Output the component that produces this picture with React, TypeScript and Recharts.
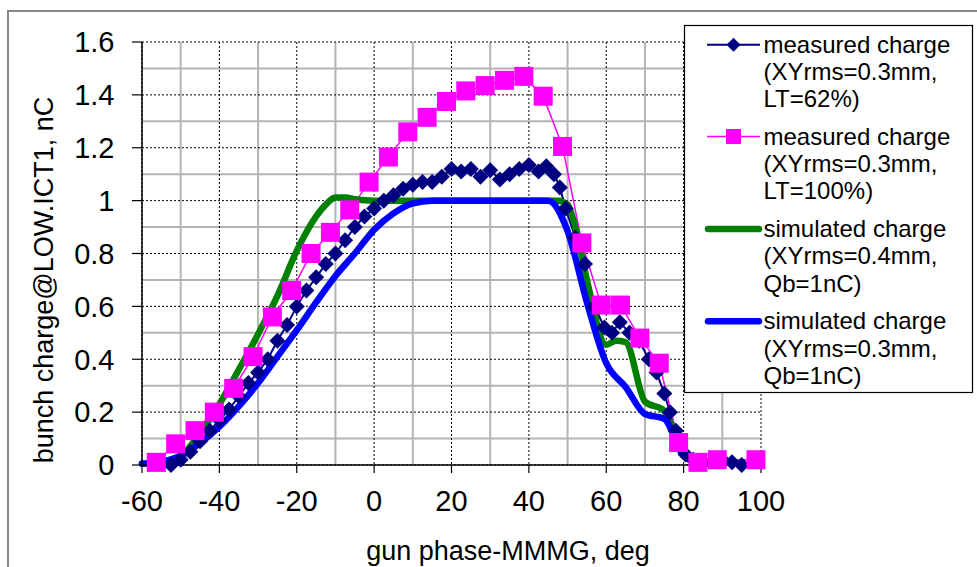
import React from 'react';
import { LineChart, Line, XAxis, YAxis, CartesianGrid, Label } from 'recharts';

// ---- axis ticks / grid values ----
const xTicks = [-60, -40, -20, 0, 20, 40, 60, 80, 100];
const yTicks = [0, 0.2, 0.4, 0.6, 0.8, 1, 1.2, 1.4, 1.6];
const xMinor = [-50, -30, -10, 10, 30, 50, 70, 90];
const yMinor = [0.1, 0.3, 0.5, 0.7, 0.9, 1.1, 1.3, 1.5];

// ---- measured charge, LT=62% ----
const navyPhase = [-52.5, -50, -47.5, -45, -42.5, -40, -37.5, -35, -32.5, -30, -27.5, -25, -22.5, -20, -17.5, -15, -12.5, -10, -7.5, -5, -2.5, 0, 2.5, 5, 7.5, 10, 12.5, 15, 17.5, 20, 22.5, 25, 27.5, 30, 32.5, 35, 37.5, 40, 42.5, 44.5, 46.5, 48, 49.5, 52, 54.5, 57, 59.5, 61.5, 63.5, 66, 68.5, 71, 73, 75, 76.5, 78, 79, 80.5, 82.5, 85, 87.5, 90, 92.5, 95];
const navyCharge = [0.0, 0.02, 0.05, 0.09, 0.13, 0.17, 0.21, 0.26, 0.31, 0.35, 0.4, 0.47, 0.53, 0.6, 0.66, 0.71, 0.76, 0.8, 0.85, 0.9, 0.94, 0.97, 1.0, 1.02, 1.045, 1.06, 1.07, 1.07, 1.09, 1.12, 1.11, 1.12, 1.09, 1.115, 1.08, 1.1, 1.12, 1.135, 1.11, 1.13, 1.1, 1.05, 0.97, 0.86, 0.76, 0.6, 0.52, 0.5, 0.54, 0.5, 0.47, 0.4, 0.35, 0.27, 0.2, 0.13, 0.08, 0.04, 0.02, 0.01, 0.015, 0.02, 0.01, 0.0];

// ---- measured charge, LT=100% ----
const magPhase = [-56.3, -51.3, -46.3, -41.3, -36.3, -31.3, -26.3, -21.3, -16.3, -11.3, -6.3, -1.3, 3.7, 8.7, 13.7, 18.7, 23.7, 28.7, 33.7, 38.7, 43.7, 48.7, 53.7, 58.7, 63.7, 68.7, 73.7, 78.7, 83.7, 88.7, 98.7];
const magCharge = [0.01, 0.08, 0.13, 0.2, 0.29, 0.41, 0.56, 0.66, 0.8, 0.88, 0.965, 1.07, 1.165, 1.26, 1.315, 1.375, 1.415, 1.435, 1.455, 1.47, 1.395, 1.205, 0.84, 0.605, 0.605, 0.48, 0.385, 0.085, 0.01, 0.02, 0.02];

// ---- simulated charge, XYrms=0.4mm ----
const greenPhase = [-60, -55, -50, -45, -40, -35, -30, -25, -20, -15, -12.5, -10, -7.5, -5, 0, 10, 20, 30, 40, 45, 47.5, 50, 52.5, 55, 60, 62.5, 65, 70, 75, 80, 85, 90];
const greenCharge = [0.005, 0.012, 0.035, 0.12, 0.23, 0.36, 0.495, 0.64, 0.81, 0.94, 0.985, 1.012, 1.012, 1.005, 1.0, 1.0, 1.0, 1.0, 1.0, 1.0, 1.0, 0.985, 0.87, 0.7, 0.455, 0.47, 0.465, 0.24, 0.205, 0.045, 0.005, 0.005];

// ---- simulated charge, XYrms=0.3mm ----
const bluePhase = [-60, -55, -50, -45, -40, -35, -30, -25, -20, -15, -10, -5, 0, 5, 10, 15, 20, 30, 40, 45, 50, 55, 60, 65, 70, 75, 80, 85, 90];
const blueCharge = [0.005, 0.012, 0.035, 0.083, 0.145, 0.222, 0.31, 0.41, 0.51, 0.615, 0.715, 0.8, 0.89, 0.952, 0.99, 1.0, 1.0, 1.0, 1.0, 1.0, 0.885, 0.615, 0.385, 0.295, 0.193, 0.175, 0.035, 0.005, 0.005];

const zip = (xs: number[], ys: number[]) => xs.map((x, i) => ({ x, v: ys[i] }));
const navyData = zip(navyPhase, navyCharge);
const magData = zip(magPhase, magCharge);
const greenData = zip(greenPhase, greenCharge);
const blueData = zip(bluePhase, blueCharge);

const NAVY = '#000080';
const MAGENTA = '#FF00FF';
const GREEN = '#008000';
const BLUE = '#0000FF';
const FONT = '"Liberation Sans", Arial, sans-serif';

const renderDiamond = (props: any) => {
  const { cx, cy, index } = props;
  if (cx == null || cy == null) return <g key={`d${index}`} />;
  const r = 8;
  return (
    <polygon
      key={`d${index}`}
      points={`${cx},${cy - r} ${cx + r},${cy} ${cx},${cy + r} ${cx - r},${cy}`}
      fill={NAVY}
    />
  );
};

const renderSquare = (props: any) => {
  const { cx, cy, index } = props;
  if (cx == null || cy == null) return <g key={`s${index}`} />;
  const h = 9.5;
  return <rect key={`s${index}`} x={cx - h} y={cy - h} width={2 * h} height={2 * h} fill={MAGENTA} />;
};

const legendItems = [
  { lines: ['measured charge', '(XYrms=0.3mm,', 'LT=62%)'], kind: 'diamond', color: NAVY, base: 52.7 },
  { lines: ['measured charge', '(XYrms=0.3mm,', 'LT=100%)'], kind: 'square', color: MAGENTA, base: 144.5 },
  { lines: ['simulated charge', '(XYrms=0.4mm,', 'Qb=1nC)'], kind: 'thick', color: GREEN, base: 237.0 },
  { lines: ['simulated charge', '(XYrms=0.3mm,', 'Qb=1nC)'], kind: 'thick', color: BLUE, base: 329.3 },
];

function LegendOverlay() {
  return (
    <svg width={977} height={567} style={{ position: 'absolute', left: 0, top: 0, pointerEvents: 'none' }}>
      <rect x={684.5} y={25.5} width={288} height={367} fill="#fff" stroke="#000" strokeWidth={1.2} />
      {legendItems.map((it, i) => {
        const iy = it.base - 8;
        return (
          <g key={i}>
            {it.kind === 'thick' ? (
              <line x1={708} x2={759} y1={iy} y2={iy} stroke={it.color} strokeWidth={6.5} strokeLinecap="round" />
            ) : (
              <line x1={707} x2={760} y1={iy} y2={iy} stroke={it.color} strokeWidth={it.kind === 'diamond' ? 2 : 1.5} />
            )}
            {it.kind === 'diamond' && (
              <polygon points={`733.5,${iy - 7} 740.5,${iy} 733.5,${iy + 7} 726.5,${iy}`} fill={it.color} />
            )}
            {it.kind === 'square' && <rect x={726} y={iy - 7.5} width={15} height={15} fill={it.color} />}
            {it.lines.map((t, k) => (
              <text key={k} x={763.5} y={it.base + k * 27.3} fontSize={24} fontFamily={FONT} fill="#000">
                {t}
              </text>
            ))}
          </g>
        );
      })}
    </svg>
  );
}

export default function App() {
  return (
    <div style={{ position: 'absolute', left: 0, top: 0, width: 977, height: 567, overflow: 'hidden', background: '#fff' }}>
      <div
        style={{
          position: 'absolute',
          left: 7,
          top: 10,
          width: 1100,
          height: 700,
          borderLeft: '2px solid #888',
          borderTop: '2px solid #888',
        }}
      />
      <div style={{ position: 'absolute', left: 0, top: 0 }}>
        <LineChart width={977} height={567} margin={{ top: 42, right: 216, left: 0, bottom: 42 }}>
          <CartesianGrid
            horizontalValues={yMinor}
            verticalValues={xMinor}
            stroke="#b4b4b4"
            strokeWidth={2}
          />
          <CartesianGrid stroke="#000" strokeWidth={1} strokeDasharray="2 2" />
          <XAxis
            dataKey="x"
            type="number"
            domain={[-60, 100]}
            ticks={xTicks}
            allowDuplicatedCategory={false}
            height={60}
            tickSize={8}
            tickMargin={17}
            axisLine={{ stroke: '#000', strokeWidth: 1.5 }}
            tickLine={{ stroke: '#000', strokeWidth: 1.2 }}
            tick={{ fill: '#000', fontSize: 29, fontFamily: FONT }}
            interval={0}
          >
            <Label
              content={() => (
                <text x={508} y={560} textAnchor="middle" fontSize={27} fontFamily={FONT} fill="#000">
                  gun phase-MMMG, deg
                </text>
              )}
            />
          </XAxis>
          <YAxis
            type="number"
            domain={[0, 1.6]}
            ticks={yTicks}
            width={142}
            tickSize={10}
            tickMargin={17.5}
            axisLine={{ stroke: '#000', strokeWidth: 1.5 }}
            tickLine={{ stroke: '#000', strokeWidth: 1.2 }}
            tick={{ fill: '#000', fontSize: 29, fontFamily: FONT }}
            interval={0}
          >
            <Label
              content={() => (
                <text
                  x={0}
                  y={0}
                  transform="translate(53,280) rotate(-90)"
                  textAnchor="middle"
                  fontSize={27}
                  fontFamily={FONT}
                  fill="#000"
                >
                  bunch charge@LOW.ICT1, nC
                </text>
              )}
            />
          </YAxis>
          <Line
            data={navyData}
            dataKey="v"
            type="linear"
            stroke={NAVY}
            strokeWidth={2}
            dot={renderDiamond}
            activeDot={false}
            isAnimationActive={false}
          />
          <Line
            data={magData}
            dataKey="v"
            type="linear"
            stroke={MAGENTA}
            strokeWidth={1.5}
            dot={renderSquare}
            activeDot={false}
            isAnimationActive={false}
          />
          <Line
            data={greenData}
            dataKey="v"
            type="monotone"
            stroke={GREEN}
            strokeWidth={6.5}
            strokeLinejoin="round"
            strokeLinecap="round"
            dot={false}
            activeDot={false}
            isAnimationActive={false}
          />
          <Line
            data={blueData}
            dataKey="v"
            type="monotone"
            stroke={BLUE}
            strokeWidth={6.5}
            strokeLinejoin="round"
            strokeLinecap="round"
            dot={false}
            activeDot={false}
            isAnimationActive={false}
          />
        </LineChart>
      </div>
      <LegendOverlay />
    </div>
  );
}
